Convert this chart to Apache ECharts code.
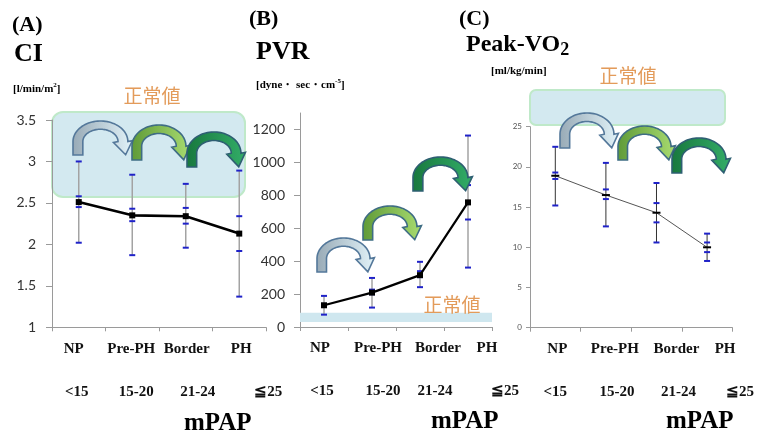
<!DOCTYPE html>
<html>
<head>
<meta charset="utf-8">
<script src="https://cdn.jsdelivr.net/npm/echarts@6/dist/echarts.min.js"></script>
<style>
html,body{margin:0;padding:0;background:#fff;}
#chart{width:757px;height:436px;}
</style>
</head>
<body>
<div id="chart"></div>
<script>
// ---------- data ----------
const categories = ['NP', 'Pre-PH', 'Border', 'PH'];
const mpapRanges = ['<15', '15-20', '21-24', '≦25'];

// (A) CI [l/min/m2]
const ciMean   = [2.51, 2.35, 2.34, 2.13];
const ciSdLow  = [2.02, 1.87, 1.96, 1.37];
const ciSdHigh = [3.00, 2.84, 2.73, 2.89];
const ciSeLow  = [2.45, 2.28, 2.25, 1.92];
const ciSeHigh = [2.58, 2.43, 2.44, 2.34];

// (B) PVR [dyne sec cm-5]
const pvrMean   = [132, 209, 315, 757];
const pvrSdLow  = [75, 118, 242, 361];
const pvrSdHigh = [189, 298, 396, 1163];
const pvrSeLow  = [124, 199, 303, 653];
const pvrSeHigh = [140, 227, 339, 862];
const pvrNormal = [30, 87];

// (C) Peak-VO2 [ml/kg/min]
const vo2Mean   = [18.9, 16.5, 14.3, 10.0];
const vo2SdLow  = [15.2, 12.6, 10.6, 8.3];
const vo2SdHigh = [22.5, 20.5, 18.0, 11.7];
const vo2SeLow  = [18.5, 16.0, 13.1, 9.4];
const vo2SeHigh = [19.3, 17.2, 15.5, 10.6];

// ---------- helpers ----------
const SERIF = '"Liberation Serif", "Times New Roman", serif';
const SANS = 'Lato, "Noto Sans", sans-serif';
const CJK = '"Noto Sans CJK JP", sans-serif';
const ORANGE = '#E39B5A';
const CAP = '#1f22c8';

function pairs(lo, hi) { return lo.map((v, i) => [i, v, hi[i]]); }
function shiftPad(s) { return s >= 0 ? [0, 0, 0, s] : [0, -s, 0, 0]; }

function errRender(capW, lineColor, lineW, showLine) {
  return function (params, api) {
    const x = api.value(0), lo = api.value(1), hi = api.value(2);
    const pLo = api.coord([x, lo]), pHi = api.coord([x, hi]);
    const ch = [];
    if (showLine) ch.push({type: 'line', shape: {x1: pLo[0], y1: pLo[1], x2: pHi[0], y2: pHi[1]},
      style: {stroke: lineColor, lineWidth: lineW}});
    [pLo, pHi].forEach(p => ch.push({type: 'line',
      shape: {x1: p[0] - capW / 2, y1: p[1], x2: p[0] + capW / 2, y2: p[1]},
      style: {stroke: CAP, lineWidth: 2}}));
    return {type: 'group', children: ch};
  };
}

// curved "jump" arrow drawn in a 57x33 local box, then scaled
function arrowPoints(x0, y0, w, h) {
  const sx = w / 57, sy = h / 33;
  const cx = 26.5, cy = 20, rxo = 26.5, ryo = 20, rxi = 17, ryi = 12;
  const pts = [[0, 33]];
  for (let t = Math.PI; t > 0; t -= 0.07) pts.push([cx + rxo * Math.cos(t), cy - ryo * Math.sin(t)]);
  const o = [cx + rxo, cy], i = [cx + rxi, cy];
  pts.push(o);
  const m = [(o[0] + i[0]) / 2, cy];
  const d = [0.2, 0.98];
  const n = [d[1], -d[0]];
  pts.push([o[0] + n[0] * 4.5, o[1] + n[1] * 4.5]);
  pts.push([m[0] + d[0] * 13, m[1] + d[1] * 13]);
  pts.push([i[0] - n[0] * 4.5, i[1] - n[1] * 4.5]);
  pts.push(i);
  for (let t = 0; t < Math.PI; t += 0.07) pts.push([cx + rxi * Math.cos(t), cy - ryi * Math.sin(t)]);
  pts.push([cx - rxi, cy]);
  pts.push([cx - rxi, 33]);
  return pts.map(p => [x0 + p[0] * sx, y0 + p[1] * sy]);
}

const arrowStyles = [
  {c1: '#98aab6', c2: '#e2f3f9', stroke: '#54789a'},
  {c1: '#5f9a38', c2: '#a9dc70', stroke: '#3f6d84'},
  {c1: '#18783e', c2: '#33ad68', stroke: '#2e5f72'}
];
function arrow(k, x, y, w, h) {
  const s = arrowStyles[k];
  return {type: 'polygon', z: 100, shape: {points: arrowPoints(x, y, w, h)},
    style: {fill: new echarts.graphic.LinearGradient(0, 0, 1, 0, [{offset: 0, color: s.c1}, {offset: 1, color: s.c2}]),
      stroke: s.stroke, lineWidth: 1.6}};
}

function normBox(x, y, w, h, r) {
  return {type: 'rect', z: 0, shape: {x: x, y: y, width: w, height: h, r: r},
    style: {fill: '#d3e9f0', stroke: '#bfe9c9', lineWidth: 2}};
}
function normText(x, y) {
  return {type: 'text', z: 101, x: x, y: y, style: {text: '正常値', font: '19px ' + CJK, fill: ORANGE,
    textAlign: 'center', textVerticalAlign: 'middle'}};
}

// ---------- axes ----------
const grids = [
  {left: 52, top: 120, width: 214, height: 207.3},
  {left: 300, top: 113, width: 192, height: 214},
  {left: 530, top: 126.7, width: 203, height: 201}
];

// label nudges (px of padding) so labels sit where the original put them
const catShift = [
  [-10, -2, 2, 4],
  [-8, 12, 36, 38],
  [4, 18, 40, 36]
];
const rangeShift = [
  [-4, 8, 24, 58],
  [-4, 22, 30, 74],
  [0, 22, 44, 66]
];

const xAxes = [];
const yAxes = [];
[0, 1, 2].forEach(g => {
  xAxes.push({type: 'category', gridIndex: g, boundaryGap: true,
    data: categories.map((c, i) => ({value: c, textStyle: {padding: shiftPad(catShift[g][i])}})),
    axisLine: {lineStyle: {color: '#9a9a9a', width: 1}},
    axisTick: {show: true, length: 4, lineStyle: {color: '#9a9a9a'}},
    axisLabel: {interval: 0, margin: 14, color: '#111', fontFamily: SERIF, fontWeight: 'bold', fontSize: 15}});
  xAxes.push({type: 'category', gridIndex: g, position: 'bottom', boundaryGap: true,
    data: mpapRanges.map((r, i) => ({value: r, textStyle: {padding: shiftPad(rangeShift[g][i])}})),
    axisLine: {show: false}, axisTick: {show: false},
    axisLabel: {interval: 0, margin: 57, color: '#111', fontFamily: SERIF, fontWeight: 'bold', fontSize: 15}});
});

const yCommon = {type: 'value', splitLine: {show: false},
  axisLine: {show: true, lineStyle: {color: '#9a9a9a'}},
  axisTick: {show: true, length: 6, lineStyle: {color: '#9a9a9a'}}};
yAxes.push(Object.assign({}, yCommon, {gridIndex: 0, min: 1, max: 3.5, interval: 0.5,
  axisLabel: {margin: 16, color: '#333', fontFamily: SANS, fontSize: 14}}));
yAxes.push(Object.assign({}, yCommon, {gridIndex: 1, min: 0, max: 1300, interval: 200,
  axisLabel: {margin: 15, color: '#333', fontFamily: SANS, fontSize: 14, showMaxLabel: false,
    formatter: v => (v > 1200 ? '' : String(v))}}));
yAxes.push(Object.assign({}, yCommon, {gridIndex: 2, min: 0, max: 25, interval: 5,
  axisTick: {show: true, length: 4, lineStyle: {color: '#9a9a9a'}},
  axisLabel: {margin: 8, color: '#555', fontFamily: SANS, fontSize: 8}}));

// ---------- series ----------
function errSeries(g, lo, hi, capW, color, lw, showLine, z) {
  return {type: 'custom', xAxisIndex: g * 2, yAxisIndex: g, z: z,
    renderItem: errRender(capW, color, lw, showLine),
    encode: {x: 0, y: [1, 2]}, data: pairs(lo, hi)};
}

const series = [
  errSeries(0, ciSdLow, ciSdHigh, 6, '#a3a3a3', 1.5, true, 3),
  errSeries(0, ciSeLow, ciSeHigh, 6, '#a3a3a3', 1.5, false, 4),
  {type: 'line', xAxisIndex: 0, yAxisIndex: 0, z: 5, data: ciMean, symbol: 'rect', symbolSize: 6,
    lineStyle: {color: '#000', width: 2.6}, itemStyle: {color: '#000'}},

  errSeries(1, pvrSdLow, pvrSdHigh, 6, '#a3a3a3', 1.5, true, 3),
  errSeries(1, pvrSeLow, pvrSeHigh, 6, '#a3a3a3', 1.5, false, 4),
  {type: 'line', xAxisIndex: 2, yAxisIndex: 1, z: 5, data: pvrMean, symbol: 'rect', symbolSize: 6,
    lineStyle: {color: '#000', width: 2.2}, itemStyle: {color: '#000'},
    markArea: {silent: true, itemStyle: {color: '#cfe7ef'}, data: [[{yAxis: pvrNormal[0]}, {yAxis: pvrNormal[1]}]]}},

  errSeries(2, vo2SdLow, vo2SdHigh, 6, '#333', 1, true, 3),
  errSeries(2, vo2SeLow, vo2SeHigh, 6, '#333', 1, false, 4),
  {type: 'line', xAxisIndex: 4, yAxisIndex: 2, z: 5, data: vo2Mean, symbol: 'rect', symbolSize: [8, 2],
    lineStyle: {color: '#555', width: 1}, itemStyle: {color: '#000'}}
];

// ---------- titles ----------
const titles = [
  {text: '(A)', left: 12, top: 14, textStyle: {fontFamily: SERIF, fontWeight: 'bold', fontSize: 22, color: '#000'}},
  {text: 'CI', left: 14, top: 41, textStyle: {fontFamily: SERIF, fontWeight: 'bold', fontSize: 26, color: '#000'}},
  {text: '{a|[l/min/m}{s|2}{a|]}', left: 13, top: 82, textStyle: {rich: {
    a: {fontFamily: SERIF, fontWeight: 'bold', fontSize: 11, color: '#000', lineHeight: 14},
    s: {fontFamily: SERIF, fontWeight: 'bold', fontSize: 7, color: '#000', verticalAlign: 'top', lineHeight: 14}}}},
  {text: '(B)', left: 249, top: 8, textStyle: {fontFamily: SERIF, fontWeight: 'bold', fontSize: 22, color: '#000'}},
  {text: 'PVR', left: 256, top: 39, textStyle: {fontFamily: SERIF, fontWeight: 'bold', fontSize: 26, color: '#000'}},
  {text: '{a|[dyne・ sec・cm}{s|-5}{a|]}', left: 256, top: 78, textStyle: {rich: {
    a: {fontFamily: SERIF, fontWeight: 'bold', fontSize: 11, color: '#000', lineHeight: 14},
    s: {fontFamily: SERIF, fontWeight: 'bold', fontSize: 7, color: '#000', verticalAlign: 'top', lineHeight: 14}}}},
  {text: '(C)', left: 459, top: 8, textStyle: {fontFamily: SERIF, fontWeight: 'bold', fontSize: 22, color: '#000'}},
  {text: '{a|Peak-VO}{b|2}', left: 466, top: 31, textStyle: {rich: {
    a: {fontFamily: SERIF, fontWeight: 'bold', fontSize: 24, color: '#000', lineHeight: 28},
    b: {fontFamily: SERIF, fontWeight: 'bold', fontSize: 18, color: '#000', verticalAlign: 'bottom', lineHeight: 28}}}},
  {text: '[ml/kg/min]', left: 491, top: 66, textStyle: {fontFamily: SERIF, fontWeight: 'bold', fontSize: 11, color: '#000'}},
  {text: 'mPAP', left: 184, top: 411, textStyle: {fontFamily: SERIF, fontWeight: 'bold', fontSize: 25, color: '#000'}},
  {text: 'mPAP', left: 431, top: 409, textStyle: {fontFamily: SERIF, fontWeight: 'bold', fontSize: 25, color: '#000'}},
  {text: 'mPAP', left: 666, top: 409, textStyle: {fontFamily: SERIF, fontWeight: 'bold', fontSize: 25, color: '#000'}}
].map(t => Object.assign({padding: 0}, t));

// ---------- decorations ----------
const graphics = [
  normBox(52, 112, 193, 85, 11),
  normBox(530, 90, 195, 35, 6),
  normText(152, 96),
  normText(452, 305),
  normText(628, 76),
  arrow(0, 73, 121, 59, 34),
  arrow(1, 132, 125, 58, 35),
  arrow(2, 187, 132, 58, 35),
  arrow(0, 317, 238, 57, 34),
  arrow(1, 363, 206, 58, 34),
  arrow(2, 413, 157, 59, 34),
  arrow(0, 560, 113, 58, 35),
  arrow(1, 618, 126, 57, 34),
  arrow(2, 672, 138, 58, 35)
];

const chart = echarts.init(document.getElementById('chart'), null, {renderer: 'canvas'});
chart.setOption({
  animation: false,
  backgroundColor: '#fff',
  title: titles,
  grid: grids,
  xAxis: xAxes,
  yAxis: yAxes,
  series: series,
  graphic: graphics
});
</script>
</body>
</html>
